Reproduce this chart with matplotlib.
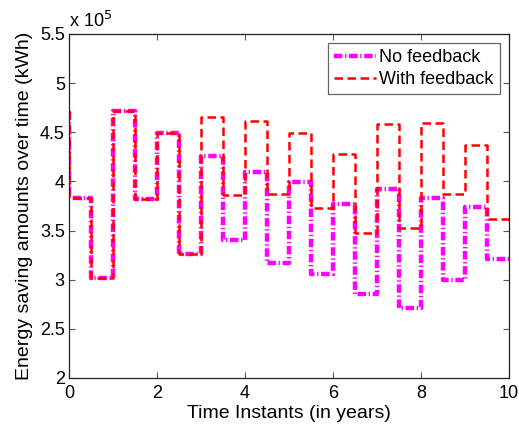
import matplotlib
matplotlib.use("Agg")
import matplotlib.pyplot as plt
import numpy as np

plt.rcParams['font.family'] = ['Liberation Sans', 'DejaVu Sans']

# step start times (years)
t_start = [0.0, 0.0, 0.5, 1.0, 1.5, 2.0, 2.5, 3.0, 3.5, 4.0, 4.5, 5.0,
           5.5, 6.0, 6.5, 7.0, 7.5, 8.0, 8.5, 9.0, 9.5, 10.0]
# values in units of 1e5 kWh
no_feedback = [4.72, 3.83, 3.02, 4.72, 3.82, 4.49, 3.26, 4.26, 3.40, 4.10, 3.17,
               3.99, 3.06, 3.77, 2.85, 3.92, 2.71, 3.83, 3.00, 3.74, 3.21, 3.21]
with_feedback = [4.72, 3.83, 3.02, 4.72, 3.82, 4.49, 3.26, 4.66, 3.86, 4.61, 3.87,
                 4.49, 3.73, 4.28, 3.48, 4.58, 3.53, 4.59, 3.87, 4.37, 3.62, 3.62]

W, H = 519, 430
fig = plt.figure(figsize=(W / 100, H / 100), dpi=100)
ax = fig.add_axes([69 / W, 1 - 378 / H, 440 / W, 344 / H])

ax.step(t_start, no_feedback, where='post', color='#ff00ff',
        linestyle=(0, (1.9, 0.6, 0.3, 0.6)), linewidth=3.2, label='No feedback')
ax.step(t_start, with_feedback, where='post', color='#ff0000',
        linestyle=(0, (3.4, 1.8)), linewidth=1.8, label='With feedback')

ax.set_xlim(0, 10)
ax.set_ylim(2, 5.5)
ax.set_xticks([0, 2, 4, 6, 8, 10])
ax.set_yticks([2, 2.5, 3, 3.5, 4, 4.5, 5, 5.5])
ax.set_yticklabels(['2', '2.5', '3', '3.5', '4', '4.5', '5', '5.5'])
ax.tick_params(direction='in', top=True, right=True, labelsize=13, length=4,
               width=0.8, color='#555555')
ax.tick_params(axis='x', pad=5)
ax.tick_params(axis='y', pad=3)
for s in ax.spines.values():
    s.set_linewidth(0.9)
    s.set_color('#222222')

ax.set_xlabel('Time Instants (in years)', fontsize=14, labelpad=2)
ax.set_ylabel('Energy saving amounts over time (kWh)', fontsize=14, labelpad=5)

ax.text(0.0, 1.01, r'x 10$^5$', transform=ax.transAxes, fontsize=13,
        ha='left', va='bottom')

leg = ax.legend(loc='upper right', fontsize=13, frameon=True, fancybox=False,
                edgecolor='#666666', framealpha=1, handlelength=2.3,
                handletextpad=0.2, borderpad=0.35, labelspacing=0.25,
                borderaxespad=0.5)
leg.get_frame().set_linewidth(0.9)

fig.savefig('out.png', dpi=100)
